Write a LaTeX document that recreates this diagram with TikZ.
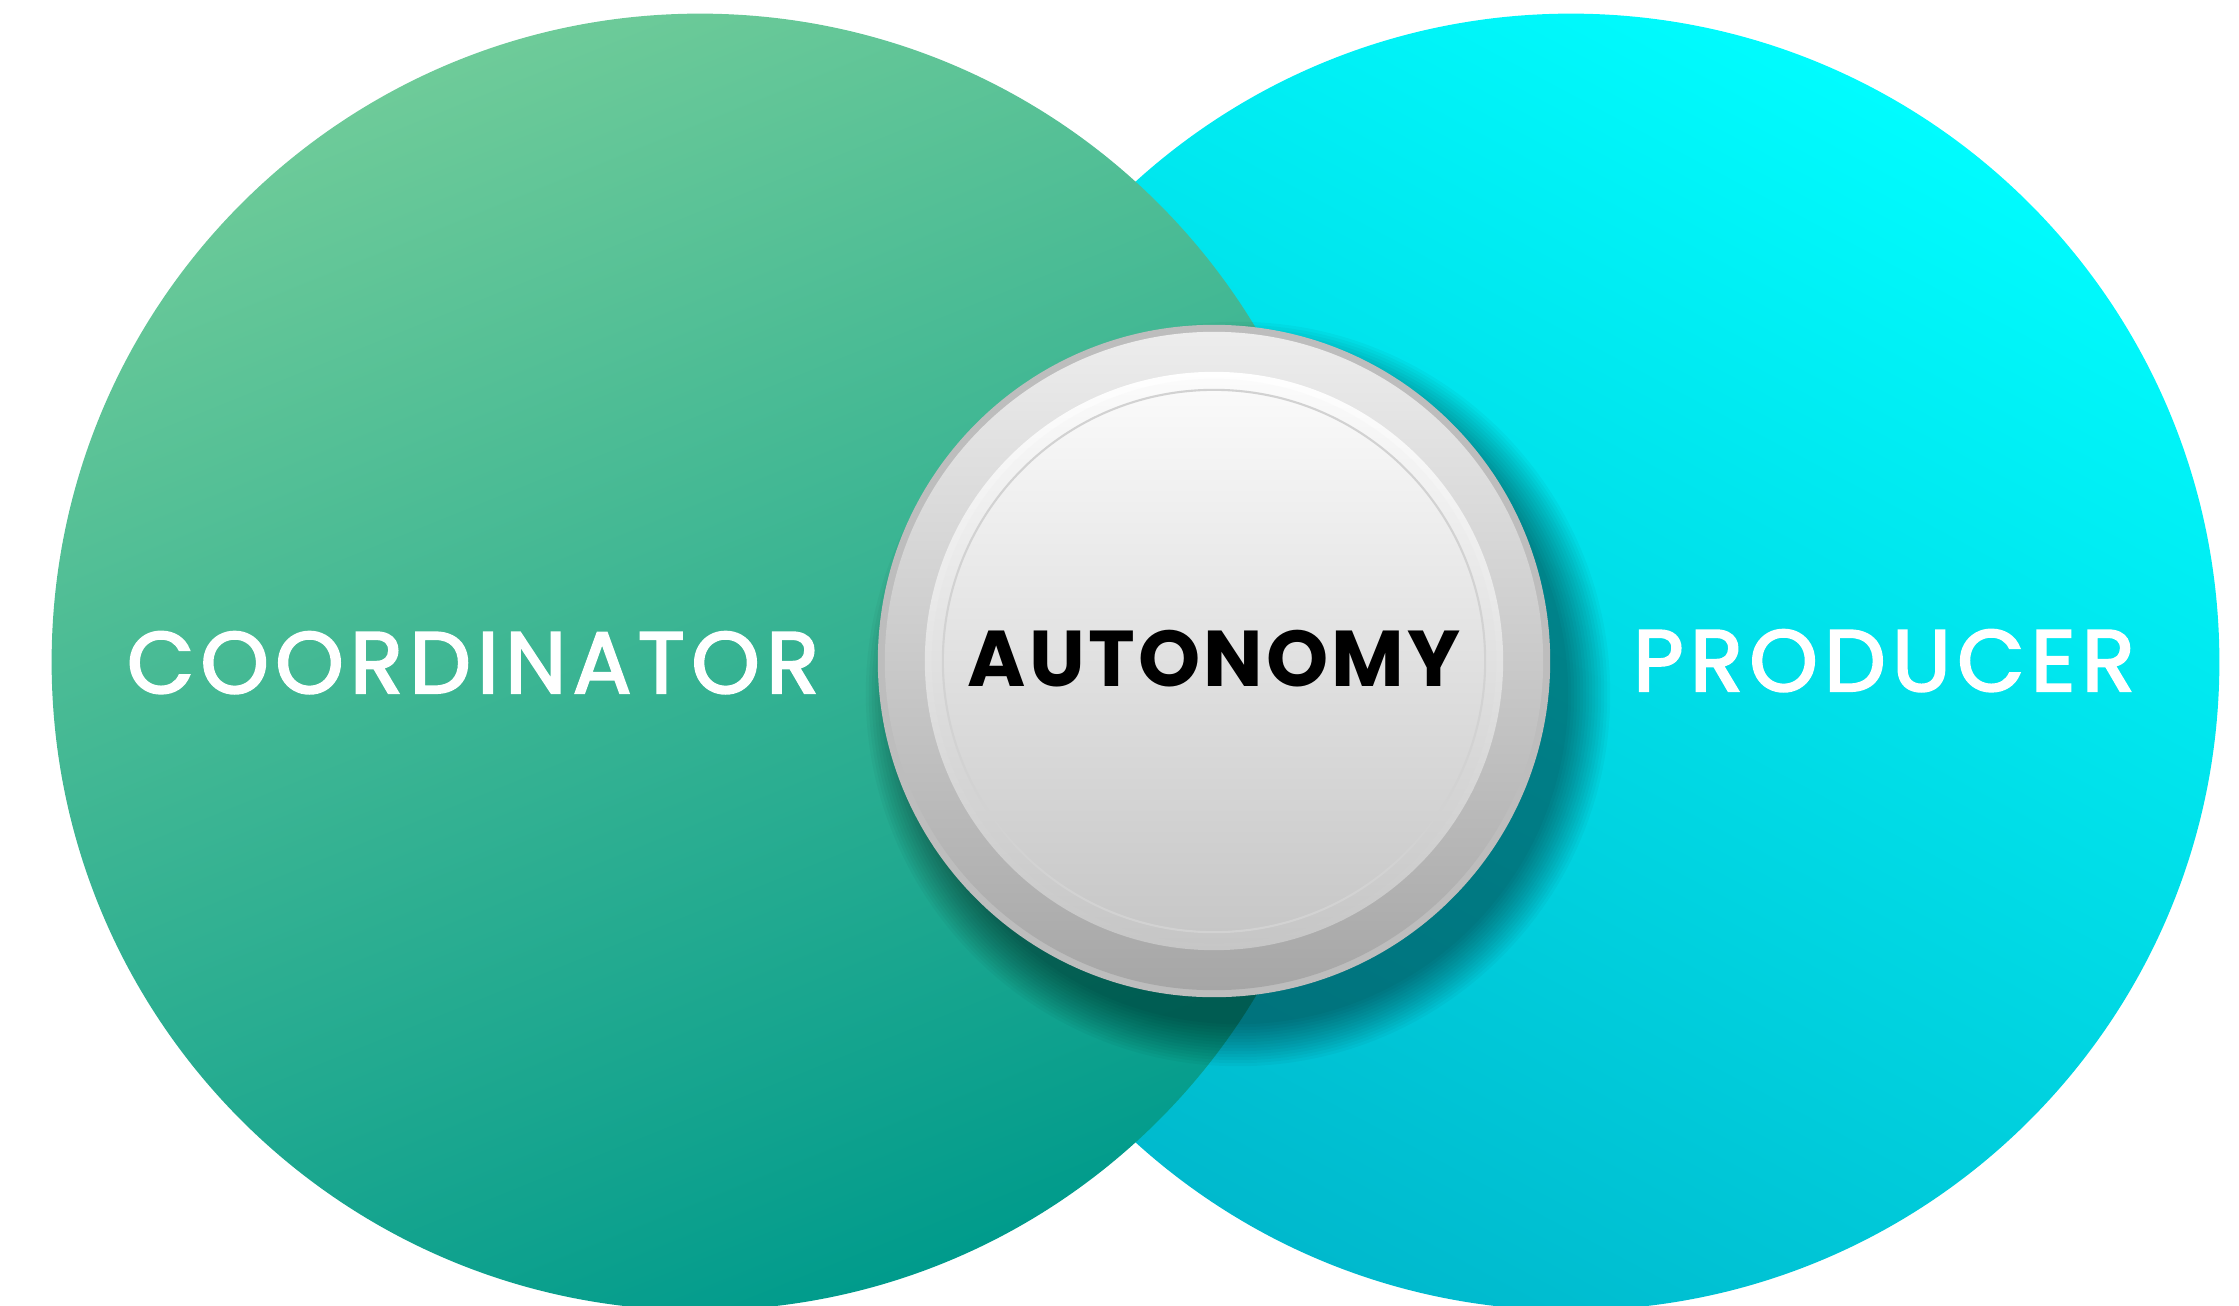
\documentclass[tikz,border=0pt]{standalone}
\usepackage{fontspec}
\setmainfont{Poppins}
\newfontfamily\lblfont{Poppins}[LetterSpace=7.5, FakeBold=2.6]
\newfontfamily\autofont{Poppins}[LetterSpace=4]
\definecolor{gTop}{HTML}{6ECB99}
\definecolor{gBot}{HTML}{009B8C}
\definecolor{cTop}{HTML}{00FCFE}
\definecolor{cBot}{HTML}{00B9CD}
\definecolor{rimTop}{HTML}{EDEDED}
\definecolor{rimBot}{HTML}{A6A6A6}
\definecolor{faceTop}{HTML}{FBFBFB}
\definecolor{faceBot}{HTML}{C6C6C6}
\definecolor{edgeGray}{HTML}{BDBDBD}
\definecolor{thinLine}{HTML}{D2D2D2}
\tikzset{
  lbl/.style={text=white, font=\lblfont\fontsize{24.7pt}{28pt}\selectfont, anchor=base, inner sep=0pt},
  autolbl/.style={text=black, font=\autofont\bfseries\fontsize{22.5pt}{26pt}\selectfont, anchor=base, inner sep=0pt},
}
\begin{document}
\begin{tikzpicture}[x=0.01cm, y=-0.01cm]
\useasboundingbox (0,0) rectangle (2239,1306);
\clip (0,0) rectangle (2239,1306);
% right circle (producer)
\shade[top color=cTop, bottom color=cBot, shading angle=-28] (1571,662) circle[radius=6.48cm];
% left circle (coordinator)
\shade[top color=gTop, bottom color=gBot, shading angle=22] (700,662) circle[radius=6.48cm];
% soft shadow of the button, cast to the lower right
\foreach \r in {3.30,3.33,...,3.72} {
  \fill[black, opacity=0.032] (1238,694) circle[radius=\r cm];
}
% button
\fill[edgeGray] (1214,661) circle[radius=3.36cm];
\shade[top color=rimTop, bottom color=rimBot] (1214,661) circle[radius=3.29cm];
\shade[even odd rule, top color=white, bottom color=faceBot] (1214,661) circle[radius=2.89cm] (1214,661) circle[radius=2.80cm];
\shade[top color=faceTop, bottom color=faceBot] (1214,661) circle[radius=2.82cm];
\draw[thinLine, line width=0.6pt] (1214,661) circle[radius=2.71cm];
% labels
\node[lbl] (coord) at (473,693) {COORDINATOR};
\node[lbl] (prod) at (1884,691) {PRODUCER};
\node[autolbl] (auto) at (1214,686) {AUTONOMY};
\end{tikzpicture}
\end{document}
